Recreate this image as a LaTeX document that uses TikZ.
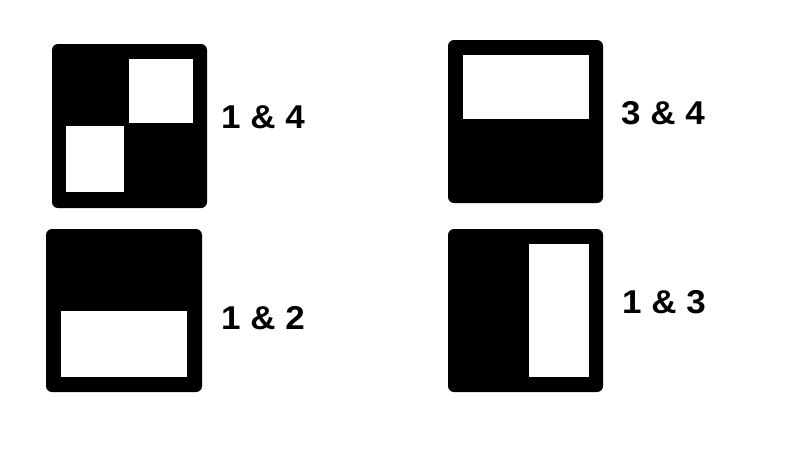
\documentclass[tikz,border=0pt]{standalone}
\usepackage{fontspec}
\setmainfont{Liberation Sans}
\begin{document}
\begin{tikzpicture}[x=1pt,y=-1pt,
  frame/.style={fill=black,rounded corners=6pt},
  hole/.style={fill=white},
  lbl/.style={anchor=base west,inner sep=0pt,font=\fontsize{33}{39}\selectfont\bfseries}]
\useasboundingbox[fill=white] (0,0) rectangle (806,467);
% box 1 & 4
\path[frame] (52,44) rectangle (207,208);
\path[hole] (129,59) rectangle (193,123);
\path[hole] (66,126) rectangle (124,192);
\node[lbl] (t14) at (221,128) {\scalebox{1.06}[1]{1 \& 4}};
% box 3 & 4
\path[frame] (448,40) rectangle (603,203);
\path[hole] (463,55) rectangle (589,119);
\node[lbl] (t34) at (621,124) {\scalebox{1.06}[1]{3 \& 4}};
% box 1 & 2
\path[frame] (46,229) rectangle (202,392);
\path[hole] (61,311) rectangle (187,377);
\node[lbl] (t12) at (221,329) {\scalebox{1.06}[1]{1 \& 2}};
% box 1 & 3
\path[frame] (448,229) rectangle (603,392);
\path[hole] (529,244) rectangle (589,377);
\node[lbl] (t13) at (622,313) {\scalebox{1.06}[1]{1 \& 3}};
\end{tikzpicture}
\end{document}
